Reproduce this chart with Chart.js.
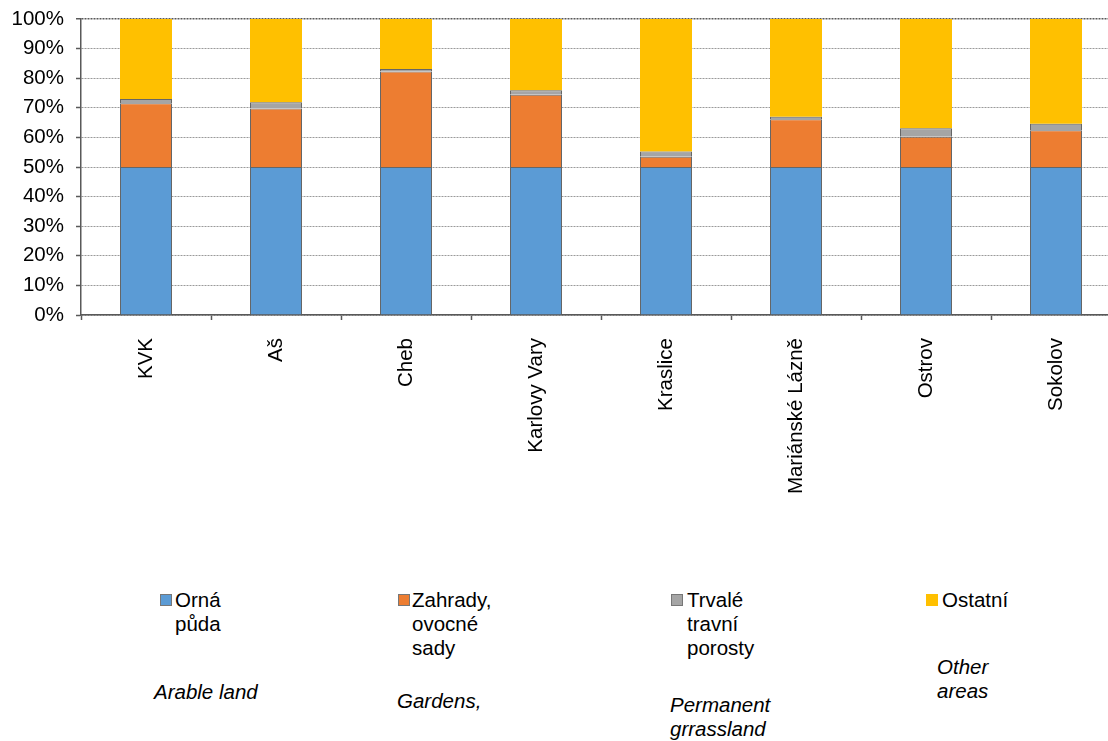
<!DOCTYPE html>
<html>
<head>
<meta charset="utf-8">
<script src="https://cdn.jsdelivr.net/npm/chart.js@4/dist/chart.umd.min.js"></script>
<style>
  html, body { margin:0; padding:0; background:#fff; overflow:hidden; width:1108px; height:741px; }
  #wrap { position:absolute; left:0; top:0; width:1121px; height:560px; }
  .lg { position:absolute; font-family:"Liberation Sans", Arial, sans-serif; font-size:20.5px; line-height:24px; color:#000; white-space:nowrap; }
  .it { font-style:italic; }
  .mk { position:absolute; width:10px; height:10px; border:1px solid #777; }
</style>
</head>
<body>
<div id="wrap"><canvas id="c"></canvas></div>

<div class="mk" style="left:160px;top:594px;background:#5B9BD5;"></div>
<div class="lg" style="left:175px;top:588px;">Orná<br>půda</div>
<div class="mk" style="left:398px;top:594px;background:#ED7D31;"></div>
<div class="lg" style="left:412px;top:588px;">Zahrady,<br>ovocné<br>sady</div>
<div class="mk" style="left:671px;top:594px;background:#A5A5A5;"></div>
<div class="lg" style="left:687px;top:588px;">Trvalé<br>travní<br>porosty</div>
<div class="mk" style="left:926px;top:594px;background:#FFC000;border-color:#FFC000;"></div>
<div class="lg" style="left:942px;top:588px;">Ostatní</div>

<div class="lg it" style="left:154px;top:680px;">Arable land</div>
<div class="lg it" style="left:397px;top:689px;">Gardens,</div>
<div class="lg it" style="left:670px;top:693px;">Permanent<br>grrassland</div>
<div class="lg it" style="left:937px;top:655px;">Other<br>areas</div>

<script>
const categories = ["KVK", "Aš", "Cheb", "Karlovy Vary", "Kraslice", "Mariánské Lázně", "Ostrov", "Sokolov"];
const ornaPuda = [50, 50, 50, 50, 50, 50, 50, 50];
const zahrady = [21.5, 19.8, 32.3, 24.4, 3.5, 16.1, 10.2, 12.4];
const trvale = [1.5, 2.1, 0.8, 1.5, 1.7, 0.9, 2.9, 2.2];
const ostatni = [27.0, 28.1, 16.9, 24.1, 44.8, 33.0, 36.9, 35.4];
const yTicks = [0, 10, 20, 30, 40, 50, 60, 70, 80, 90, 100];

const FONT = { family: '"Liberation Sans", Arial, sans-serif', size: 20.5 };

new Chart(document.getElementById('c'), {
  type: 'bar',
  data: {
    labels: categories,
    datasets: [
      { label: 'Orná půda', data: ornaPuda, backgroundColor: '#5B9BD5', borderColor: '#666', borderWidth: 1 },
      { label: 'Zahrady, ovocné sady', data: zahrady, backgroundColor: '#ED7D31', borderColor: '#666', borderWidth: 1 },
      { label: 'Trvalé travní porosty', data: trvale, backgroundColor: '#A5A5A5', borderColor: '#666', borderWidth: 1 },
      { label: 'Ostatní', data: ostatni, backgroundColor: '#FFC000', borderWidth: 0 }
    ]
  },
  options: {
    responsive: true,
    maintainAspectRatio: false,
    animation: false,
    datasets: { bar: { barPercentage: 0.4, categoryPercentage: 1.0 } },
    layout: { padding: { top: 19, left: 0, right: 0, bottom: 0 } },
    plugins: { legend: { display: false }, tooltip: { enabled: false } },
    scales: {
      x: {
        stacked: true,
        offset: true,
        grid: { offset: true, drawOnChartArea: false, drawTicks: true, tickLength: 5, tickColor: '#595959', tickWidth: 1.5 },
        border: { display: true, color: '#595959', width: 1.5 },
        ticks: { font: FONT, color: '#000', minRotation: 90, maxRotation: 90, padding: 18, autoSkip: false },
        afterFit: (s) => { s.height = 245; s.paddingLeft = 0; s.paddingRight = 0; }
      },
      y: {
        stacked: true,
        min: 0, max: 100,
        afterBuildTicks: (s) => { s.ticks = yTicks.map(v => ({ value: v })); },
        grid: {
          color: (ctx) => ctx.tick && ctx.tick.value === 100 ? '#595959' : '#9a9a9a',
          lineWidth: (ctx) => ctx.tick && ctx.tick.value === 100 ? 1.5 : 1,
          tickColor: '#595959', tickLength: 5, tickWidth: 1.5,
          drawTicks: true
        },
        border: { display: true, color: '#595959', width: 1.5, dash: [2, 1] },
        ticks: { font: FONT, color: '#000', padding: 12, callback: (v) => v + '%' },
        afterFit: (s) => { s.width = 81; s.paddingTop = 0; s.paddingBottom = 0; }
      }
    }
  }
});
</script>
</body>
</html>
